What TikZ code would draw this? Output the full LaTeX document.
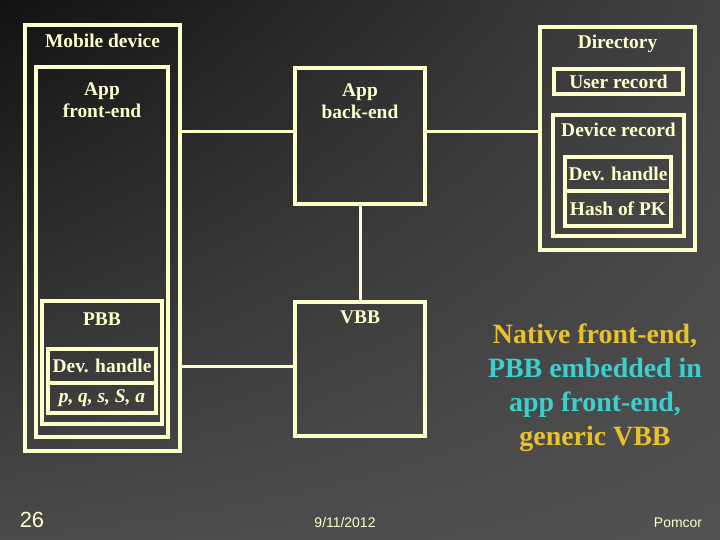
\documentclass[tikz,border=0pt]{standalone}
\usepackage{fontspec}
\setmainfont{Liberation Serif}
\setsansfont{Liberation Sans}
\usetikzlibrary{positioning,shadings}
\definecolor{cream}{HTML}{FFFFCC}
\definecolor{gold}{HTML}{E9C12B}
\definecolor{aqua}{HTML}{3CCFCF}

\begin{document}
\begin{tikzpicture}[x=1bp,y=-1bp,
        blk/.style={draw=cream,line width=3.5bp,rectangle,inner sep=0pt,outer sep=0pt},
        txt/.style={text=cream,font=\fontsize{19.5}{22.5}\selectfont\bfseries,inner sep=0pt,align=center},
        link/.style={draw=cream,line width=3bp},
        note/.style={font=\fontsize{28}{34}\selectfont\bfseries,inner sep=0pt,align=center},
        foot/.style={text=cream,inner sep=0pt}]

    \shade[upper left=black!93,upper right=black!74,lower left=black!71,lower right=black!68]
        (0,0) rectangle (720,540);
    \useasboundingbox (0,0) rectangle (720,540);

    \node[blk,minimum width=155bp,minimum height=426bp] (mob) at (102.5,238) {};
    \node[blk,minimum width=132bp,minimum height=370bp] (front) at (102,252) {};
    \node[blk,minimum width=120bp,minimum height=123bp] (pbb) at (102,362.5) {};
    \node[blk,txt,minimum width=108bp,minimum height=34bp] (dh2) at (102,366) {Dev. handle};
    \node[blk,txt,minimum width=108bp,minimum height=30bp,below=0bp of dh2] (pq) {\textit{p, q, s, S, a}};

    \node[blk,minimum width=130bp,minimum height=136bp] (app) at (360,136) {};
    \node[blk,minimum width=130bp,minimum height=134bp] (vbb) at (360,369) {};

    \node[blk,minimum width=155bp,minimum height=223bp] (dir) at (617.5,138.5) {};
    \node[blk,txt,minimum width=129bp,minimum height=25bp] (user) at (618.5,81.5) {User record};
    \node[blk,minimum width=131bp,minimum height=121bp] (dev) at (618.5,175.5) {};
    \node[blk,txt,minimum width=106bp,minimum height=34bp] (dh1) at (618,174) {Dev. handle};
    \node[blk,txt,minimum width=106bp,minimum height=35bp,below=0bp of dh1] (hash) {Hash of PK};

    \node[txt,below=9bp of mob.north] (mobt) {Mobile device};
    \node[txt,below=15bp of front.north] (frontt) {App\\front-end};
    \node[txt,below=12bp of pbb.north] (pbbt) {PBB};
    \node[txt,below=15bp of app.north] (appt) {App\\back-end};
    \node[txt,below=9bp of vbb.north] (vbbt) {VBB};
    \node[txt,below=8bp of dir.north] (dirt) {Directory};
    \node[txt,below=8bp of dev.north] (devt) {Device record};

    \draw[link] ([yshift=4bp]app.west) -- ([yshift=4bp]app.west -| mob.east);
    \draw[link] ([yshift=4bp]app.east) -- ([yshift=4bp]app.east -| dir.west);
    \draw[link] (app) -- (vbb);
    \draw[link] ([yshift=3bp]vbb.west) -- ([yshift=3bp]vbb.west -| mob.east);

    \node[note] (remark) at (595,388) {{\color{gold}Native front-end,}\\
        {\color{aqua}PBB embedded in}\\{\color{aqua}app front-end,}\\{\color{gold}generic VBB}};

    \node[foot,font=\sffamily\fontsize{22}{24}\selectfont] (num) at (32,520) {26};
    \node[foot,font=\sffamily\fontsize{14}{16}\selectfont] (date) at (345,523) {9/11/2012};
    \node[foot,font=\sffamily\fontsize{14}{16}\selectfont] (who) at (678,523) {Pomcor};

    \end{tikzpicture}
\end{document}
